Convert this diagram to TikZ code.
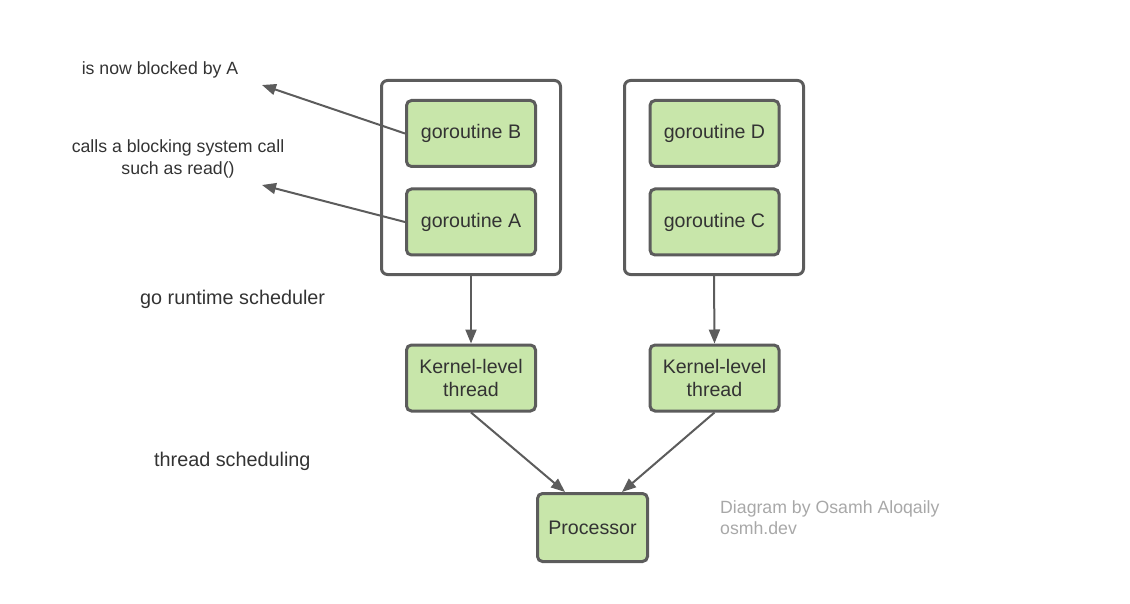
\documentclass[tikz,border=0pt]{standalone}
\usepackage{fontspec}
\setmainfont{Liberation Sans}
\usetikzlibrary{arrows.meta}
\definecolor{gofill}{HTML}{C8E6AA}
\definecolor{goline}{HTML}{5C5C5C}
\definecolor{gotext}{HTML}{333333}
\definecolor{credit}{HTML}{A8A8A8}
\tikzset{
	task/.style={draw=goline, fill=gofill, line width=3pt, rounded corners=5pt, text=gotext,
		minimum width=129pt, minimum height=66pt, align=center, font=\fontsize{19.6}{23.5}\selectfont},
	group/.style={draw=goline, fill=white, line width=3pt, rounded corners=6pt,
		minimum width=179pt, minimum height=194pt},
	link/.style={draw=goline, line width=2pt, -{Triangle[length=14pt,width=11pt]}},
	note/.style={text=gotext, align=center, font=\fontsize{17.7}{22}\selectfont},
	label/.style={text=gotext, anchor=west, inner xsep=0pt, font=\fontsize{19.8}{23}\selectfont}
}
\begin{document}
\begin{tikzpicture}[x=1pt,y=-1pt]
		\useasboundingbox (0,0) rectangle (1130,604);
		% goroutine groups
		\node[group] (left) at (471,177.5) {};
		\node[group] (right) at (714,177.5) {};
		\node[task] (gB) at (471,133.5) {goroutine B};
		\node[task] (gA) at (471,222) {goroutine A};
		\node[task] (gD) at (714.5,133.5) {goroutine D};
		\node[task] (gC) at (714.5,222) {goroutine C};
		% threads and processor
		\node[task] (kleft) at (471,378) {Kernel-level\\thread};
		\node[task] (kright) at (714.5,378) {Kernel-level\\thread};
		\node[task, minimum width=110pt, minimum height=68pt] (cpu) at (592.5,527.5) {Processor};
		
		\node[note] (blocked) at (160,70) {is now blocked by A};
		\node[note] (syscall) at (178,158.5) {calls a blocking system call\\such as read()};
		\coordinate (blockedtip) at (262,85);
		\coordinate (syscalltip) at (262,185);
		
		\draw[link] (gB.west) -- (blockedtip);
		\draw[link] (gA.west) -- (syscalltip);
		\draw[link] (left.south) -- (kleft.north);
		\draw[link] (right.south) -- (kright.north);
		\draw[link] (kleft.south) -- ([xshift=29pt]cpu.north west);
		\draw[link] (kright.south) -- ([xshift=-27pt]cpu.north east);
		
		\node[label] (rtsched) at (140,299) {go runtime scheduler};
		\node[label] (thsched) at (154,461) {thread scheduling};
		\node[anchor=west, inner xsep=0pt, align=left, text=credit, font=\fontsize{17.7}{21}\selectfont] (credit) at (720,517.5) {Diagram by Osamh Aloqaily\\osmh.dev};
\end{tikzpicture}
\end{document}
